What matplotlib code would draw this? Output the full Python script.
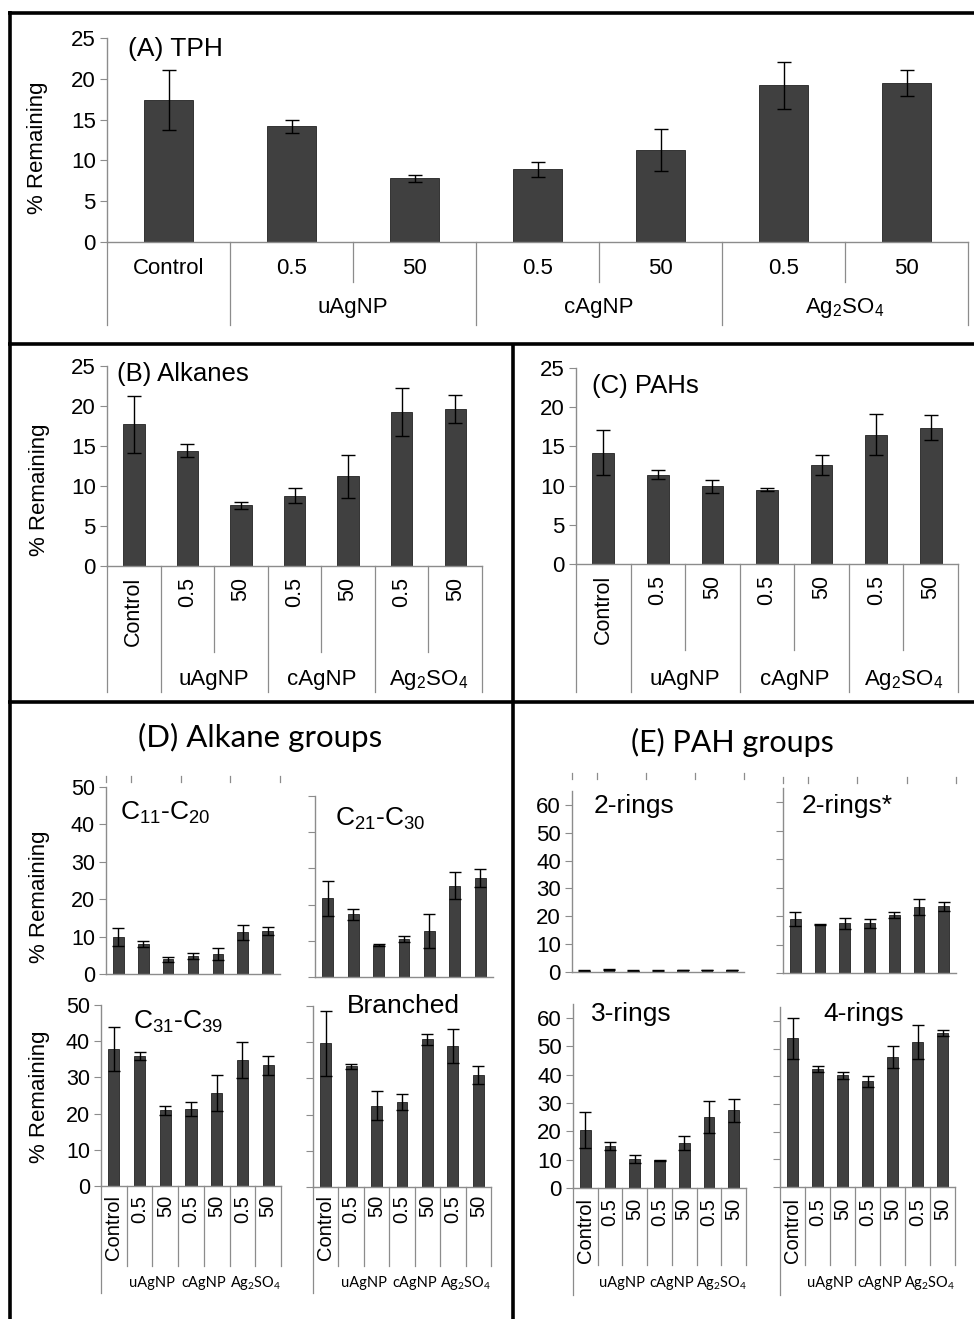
import matplotlib
matplotlib.use("Agg")
import matplotlib.pyplot as plt
from matplotlib.lines import Line2D
from matplotlib.transforms import Affine2D, blended_transform_factory

W, H = 974, 1319

categories = ["Control", "0.5", "50", "0.5", "50", "0.5", "50"]
groups = ["uAgNP", "cAgNP", "Ag$_2$SO$_4$"]

# (A) TPH
tph = [17.4, 14.2, 7.8, 8.9, 11.3, 19.2, 19.5]
tph_err = [3.7, 0.8, 0.4, 0.9, 2.6, 2.9, 1.6]
# (B) Alkanes
alk = [17.7, 14.4, 7.6, 8.8, 11.2, 19.2, 19.6]
alk_err = [3.6, 0.8, 0.45, 0.95, 2.7, 3.0, 1.75]
# (C) PAHs
pah = [14.2, 11.4, 9.9, 9.5, 12.6, 16.5, 17.4]
pah_err = [2.9, 0.55, 0.8, 0.2, 1.25, 2.6, 1.6]
# (D) alkane groups
c11_c20 = [9.8, 8.0, 3.9, 4.8, 5.3, 11.2, 11.5]
c11_c20_err = [2.4, 0.8, 0.75, 0.7, 1.6, 2.0, 1.2]
c21_c30 = [21.7, 17.3, 8.8, 10.5, 12.7, 25.2, 27.3]
c21_c30_err = [4.8, 1.6, 0.3, 0.7, 4.7, 3.7, 2.4]
c31_c39 = [37.8, 36.0, 20.9, 21.3, 25.7, 34.8, 33.3]
c31_c39_err = [6.0, 1.1, 1.3, 2.0, 5.1, 5.0, 2.7]
branched = [39.7, 33.3, 22.5, 23.5, 40.8, 38.9, 30.9]
branched_err = [9.0, 0.8, 4.0, 2.2, 1.6, 4.7, 2.4]
# (E) PAH groups
ring2 = [0.5, 0.8, 0.5, 0.5, 0.7, 0.7, 0.7]
ring2_err = [0.15, 0.2, 0.1, 0.1, 0.15, 0.15, 0.15]
ring2s = [18.9, 17.0, 17.5, 17.4, 20.3, 23.2, 23.4]
ring2s_err = [2.5, 0.2, 1.9, 1.5, 1.0, 2.8, 1.7]
ring3 = [20.5, 14.9, 10.3, 9.8, 15.8, 25.2, 27.4]
ring3_err = [6.5, 1.5, 1.3, 0.2, 2.5, 5.7, 4.1]
ring4 = [53.7, 42.6, 40.3, 38.1, 46.8, 52.4, 55.5]
ring4_err = [7.5, 1.2, 1.2, 1.9, 4.0, 6.0, 1.1]

plt.rcParams["font.family"] = ["Liberation Sans", "DejaVu Sans"]
plt.rcParams["mathtext.default"] = "regular"

GRAY = "#8c8c8c"
BAR = "#404040"
CAL = ["Lato", "DejaVu Sans"]

fig = plt.figure(figsize=(W / 100, H / 100), dpi=100)
# image-pixel coordinates (origin top-left)
pxT = Affine2D().scale(1 / W, -1 / H).translate(0, 1) + fig.transFigure


def rect(l, t, r, b):
    return [l / W, 1 - b / H, (r - l) / W, (b - t) / H]


def line(xs, ys, T=pxT, **kw):
    fig.add_artist(Line2D(xs, ys, transform=T, **kw))


def panel(box, vals, errs, ymax, ticks, ticklabels=True, fs=16,
          width=0.4, capsize=5):
    ax = fig.add_axes(rect(*box))
    x = [i + 0.5 for i in range(len(vals))]
    ax.bar(x, vals, width, color=BAR, edgecolor="#222222", linewidth=0.6,
           yerr=errs, capsize=capsize,
           error_kw=dict(ecolor="black", elinewidth=1.0, capthick=1.0))
    ax.set_xlim(0, 7)
    ax.set_ylim(0, ymax)
    ax.set_yticks(ticks)
    if not ticklabels:
        ax.set_yticklabels([])
    ax.set_xticks([])
    for s in ["top", "right"]:
        ax.spines[s].set_visible(False)
    for s in ["left", "bottom"]:
        ax.spines[s].set_color(GRAY)
        ax.spines[s].set_linewidth(1.0)
    ax.tick_params(axis="y", length=5, color=GRAY, labelsize=fs, pad=3)
    ax.patch.set_alpha(0)
    return ax


def xcats(ax, y0, label_y, inner_b, outer_b, group_y, rotate, fs, gfs,
          gfamily=None, small=False):
    T = blended_transform_factory(ax.transData, pxT)
    for i in range(8):
        if small:
            b = outer_b if i == 0 else inner_b
        else:
            b = outer_b if i in (0, 1, 3, 5, 7) else inner_b
        line([i, i], [y0, b], T=T, color=GRAY, lw=0.9)
    for i, c in enumerate(categories):
        fig.text(i + 0.5, label_y, c, transform=T, ha="center",
                 va="top" if rotate else "center",
                 rotation=90 if rotate else 0, fontsize=fs)
    for g, pos in zip(groups, [2, 4, 6]):
        kw = {"family": gfamily} if gfamily else {}
        fig.text(pos, group_y, g, transform=T, ha="center", va="center",
                 fontsize=gfs, **kw)


def stub_ticks(ax, y_top, y_bot):
    T = blended_transform_factory(ax.transData, pxT)
    for i in (0, 1, 3, 5, 7):
        line([i, i], [y_top, y_bot], T=T, color=GRAY, lw=0.9)


# ---- panel frames ----
frame = dict(color="black", lw=2.6, solid_capstyle="butt")
line([8, 974], [12.5, 12.5], **frame)
line([9.5, 9.5], [11, 1319], **frame)
line([8, 974], [344, 344], **frame)
line([512.5, 512.5], [344, 1319], **frame)
line([8, 974], [701.5, 701.5], **frame)

# ---- (A) TPH ----
axA = panel((107, 38, 968, 242), tph, tph_err, 25, range(0, 26, 5))
xcats(axA, 242, 268, 282, 325, 308, False, 16, 16)
fig.text(128, 49, "(A) TPH", transform=pxT, fontsize=19, va="center")
fig.text(37, 148, "% Remaining", transform=pxT, fontsize=16, rotation=90,
         ha="center", va="center")

# ---- (B) Alkanes ----
axB = panel((107, 366, 482, 566), alk, alk_err, 25, range(0, 26, 5))
xcats(axB, 566, 577, 652, 692, 680, True, 15.5, 16)
fig.text(117, 374, "(B) Alkanes", transform=pxT, fontsize=18.5, va="center")
fig.text(40, 490, "% Remaining", transform=pxT, fontsize=16, rotation=90,
         ha="center", va="center")

# ---- (C) PAHs ----
axC = panel((576, 368, 958, 564), pah, pah_err, 25, range(0, 26, 5))
xcats(axC, 564, 575, 650, 692, 680, True, 15.5, 16)
fig.text(592, 386, "(C) PAHs", transform=pxT, fontsize=18.5, va="center")

# ---- (D) Alkane groups ----
fig.text(260, 737, "(D) Alkane groups", transform=pxT, fontsize=22.5,
         family=CAL, ha="center", va="center")
sm = dict(fs=15.5, width=0.43, capsize=4)
axD1 = panel((106, 787, 280, 974), c11_c20, c11_c20_err, 50, range(0, 51, 10), **sm)
axD2 = panel((315, 796, 493, 977), c21_c30, c21_c30_err, 50, range(0, 51, 10),
             ticklabels=False, **sm)
axD3 = panel((101, 1005, 281, 1186), c31_c39, c31_c39_err, 50, range(0, 51, 10), **sm)
axD4 = panel((313, 1006, 491, 1187), branched, branched_err, 50, range(0, 51, 10),
             ticklabels=False, **sm)
stub_ticks(axD1, 776, 782)
xcats(axD3, 1186, 1195, 1266, 1293, 1283, True, 14.5, 10.5, CAL, small=True)
xcats(axD4, 1187, 1195, 1266, 1293, 1283, True, 14.5, 10.5, CAL, small=True)
fig.text(120, 813, "C$_{11}$-C$_{20}$", transform=pxT, fontsize=19, va="center")
fig.text(335, 819, "C$_{21}$-C$_{30}$", transform=pxT, fontsize=19, va="center")
fig.text(133, 1022, "C$_{31}$-C$_{39}$", transform=pxT, fontsize=19, va="center")
fig.text(347, 1006, "Branched", transform=pxT, fontsize=19, va="center")
fig.text(40, 897, "% Remaining", transform=pxT, fontsize=16, rotation=90,
         ha="center", va="center")
fig.text(40, 1097, "% Remaining", transform=pxT, fontsize=16, rotation=90,
         ha="center", va="center")

# ---- (E) PAH groups ----
fig.text(732, 742, "(E) PAH groups", transform=pxT, fontsize=22,
         family=CAL, ha="center", va="center")
sm = dict(fs=16, width=0.43, capsize=4)
axE1 = panel((572, 791, 744, 972), ring2, ring2_err, 65, range(0, 61, 10), **sm)
axE2 = panel((783, 788, 956, 973), ring2s, ring2s_err, 65, range(0, 61, 10),
             ticklabels=False, **sm)
axE3 = panel((573, 1004, 746, 1188), ring3, ring3_err, 65, range(0, 61, 10), **sm)
axE4 = panel((780, 1007, 955, 1187), ring4, ring4_err, 65, range(0, 61, 10),
             ticklabels=False, **sm)
stub_ticks(axE1, 773, 779)
stub_ticks(axE2, 777, 783)
xcats(axE3, 1188, 1198, 1265, 1295, 1283, True, 14.5, 10.5, CAL, small=True)
xcats(axE4, 1187, 1198, 1265, 1295, 1283, True, 14.5, 10.5, CAL, small=True)
fig.text(594, 806, "2-rings", transform=pxT, fontsize=19, va="center")
fig.text(802, 806, "2-rings*", transform=pxT, fontsize=19, va="center")
fig.text(591, 1014, "3-rings", transform=pxT, fontsize=19, va="center")
fig.text(823, 1014, "4-rings", transform=pxT, fontsize=19, va="center")

fig.savefig("out.png", dpi=100)
